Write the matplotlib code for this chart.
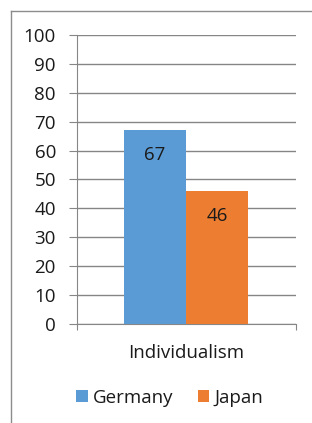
import matplotlib
matplotlib.use("Agg")
import matplotlib.pyplot as plt
from matplotlib.lines import Line2D
from matplotlib.patches import Patch

categories = ["Individualism"]
series_names = ["Germany", "Japan"]
germany = [67]
japan = [46]
yticks = [0, 10, 20, 30, 40, 50, 60, 70, 80, 90, 100]

colors = ["#5B9BD5", "#ED7D31"]
grid_c = "#868686"

plt.rcParams['font.family'] = ['Open Sans', 'DejaVu Sans']
FS = 13.5

W, H = 312, 423
fig = plt.figure(figsize=(W / 100, H / 100), dpi=100)

def fx(px):
    return px / W

def fy(py):
    return 1 - py / H

ax = fig.add_axes([fx(76.5), fy(324), fx(295.5) - fx(76.5), fy(35) - fy(324)])

width = 0.285
x0 = 0
b1 = ax.bar(x0 - width / 2, germany[0], width, color=colors[0], zorder=3)
b2 = ax.bar(x0 + width / 2, japan[0], width, color=colors[1], zorder=3)
for bars, vals in ((b1, germany), (b2, japan)):
    for rect, v in zip(bars, vals):
        ax.text(rect.get_x() + rect.get_width() / 2, v - 8.5, str(v),
                ha="center", va="center", fontsize=FS, color="#1a1a1a", zorder=4)

ax.set_xlim(-0.5, 0.5)
ax.set_ylim(0, 100)
ax.set_yticks(yticks)
ax.set_yticklabels([str(t) for t in yticks], fontsize=FS, color="#1a1a1a")
ax.yaxis.grid(True, color=grid_c, linewidth=1, zorder=0)
ax.tick_params(axis="y", length=5.8, color=grid_c, pad=9)
ax.set_xticks([-0.5, 0.5])
ax.set_xticklabels(["", ""])
ax.tick_params(axis="x", length=4.3, color=grid_c, direction="out")
ax.text(0, -10, categories[0], ha="center", va="center", fontsize=FS,
        color="#1a1a1a", transform=ax.transData)

for s in ("top", "right"):
    ax.spines[s].set_visible(False)
ax.spines["left"].set_color(grid_c)
ax.spines["bottom"].set_color(grid_c)

# outer chart border (left and top visible)
fig.add_artist(Line2D([fx(10.5), fx(10.5)], [fy(11), 0], color="#8c8c8c", lw=1))
fig.add_artist(Line2D([fx(10.5), 1], [fy(11), fy(11)], color="#8c8c8c", lw=1))

handles = [Patch(facecolor=c, edgecolor="none") for c in colors]
fig.legend(handles, series_names, loc="center", bbox_to_anchor=(fx(170), fy(398)),
           ncol=2, frameon=False, fontsize=FS, handlelength=0.6, handleheight=0.6,
           handletextpad=0.3, columnspacing=1.3, labelcolor="#1a1a1a")

fig.savefig("out.png", dpi=100)
